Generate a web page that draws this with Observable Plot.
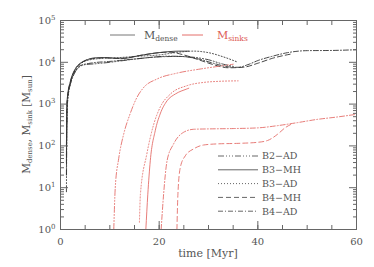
<!DOCTYPE html>
<html><head><meta charset="utf-8">
<script src="https://cdn.jsdelivr.net/npm/d3@7"></script>
<script src="https://cdn.jsdelivr.net/npm/@observablehq/plot@0.6"></script>
<style>body{margin:0;background:#fff}</style></head>
<body><div id="chart"></div>
<script>
// ---- data (time [Myr], mass [Msun]) ----
const runs = ["B2-AD", "B3-MH", "B3-AD", "B4-MH", "B4-AD"];

const denseB2AD = [[1.2,8],[1.3,300],[1.5,1500],[2,3200],[3,6000],[4,8000],[5,8800],[7,9200],[10,10000],[14,11500],[18,13000],[22,14000],[26,13500],[30,11500],[33,9000],[35,8000]];
const denseB3MH = [[1.2,40],[1.3,1000],[1.5,1800],[2,3500],[3,7000],[4,9500],[5,11000],[7,12800],[9,13000],[11,12500],[13,12500],[16,14500],[19,16500],[22,18000],[24,18500],[26,18500]];
const denseB3AD = [[1.2,60],[1.4,1000],[2,3000],[3,6500],[4,9000],[6,11500],[9,12500],[12,13000],[16,14000],[20,15000],[24,17500],[27,18500],[30,17000],[33,13500],[36,10000]];
const denseB4MH = [[1.2,100],[1.35,1200],[2,3300],[3,6800],[4,9200],[6,12000],[9,12800],[12,12300],[16,14500],[20,17000],[22,17500],[25,15000],[28,11500],[31,8800],[34,7400],[37,7600],[40,9500],[43,12500],[47,16000]];
const denseB4AD = [[1.2,20],[1.3,800],[1.6,2000],[2,3000],[3,6000],[4,8300],[6,9500],[10,10500],[15,12000],[20,13500],[24,13800],[28,12000],[31,9500],[34,7800],[36,7600],[38,8800],[40,11000],[43,14000],[46,17000],[50,19000],[55,19200],[60,20000]];

const sinksB2AD = [[10.8,1],[11.1,10],[11.8,50],[12.8,190],[14.1,580],[15.5,1450],[16.8,2450],[19.6,4000],[23.6,5500],[28.3,6900],[32,8000],[35,9000]];
const sinksB3MH = [[17.3,1],[17.7,7],[18.2,44],[19.2,230],[20.2,580],[21.6,1200],[23.3,1750],[25.6,2300],[26,2400]];
const sinksB3AD = [[16.0,1.5],[16.2,7],[17.5,64],[18.9,330],[20.2,840],[22.3,1750],[25.6,2750],[29,3300],[32,3500],[36,3600]];
const sinksB4MH = [[23.6,1],[23.8,7],[24.3,31],[25.3,58],[27,85],[29,105],[32,112],[36,115],[40,122],[42,135],[44,190],[45.5,270],[47,340]];
const sinksB4AD = [[20.4,1],[20.9,7],[21.6,44],[22.9,110],[24.9,210],[27,250],[30,255],[35,260],[40,270],[44,305],[48,360],[52,430],[56,490],[60,570]];

const xMajorTicks = [0, 20, 40, 60];
const xMinorTicks = [0,5,10,15,20,25,30,35,40,45,50,55,60];
const yMajorTicks = [1, 10, 100, 1000, 10000, 100000];
const yMinorTicks = [2,3,4,5,6,7,8,9,20,30,40,50,60,70,80,90,200,300,400,500,600,700,800,900,2000,3000,4000,5000,6000,7000,8000,9000,20000,30000,40000,50000,60000,70000,80000,90000];

const denseSeries = {"B2-AD": denseB2AD, "B3-MH": denseB3MH, "B3-AD": denseB3AD, "B4-MH": denseB4MH, "B4-AD": denseB4AD};
const sinkSeries  = {"B2-AD": sinksB2AD, "B3-MH": sinksB3MH, "B3-AD": sinksB3AD, "B4-MH": sinksB4MH, "B4-AD": sinksB4AD};

// ---- styles ----
const dash = {"B2-AD": "6,2,1,2,1,2,1,2", "B3-MH": null, "B3-AD": "1,2", "B4-MH": "5,3", "B4-AD": "5,2,1,2"};
const denseColor = "#333", sinkColor = "#e46e6a", axisColor = "#666", textColor = "#555";
const FONT = "DejaVu Serif";
const W = 374, H = 267, mL = 60, mR = 18, mT = 20, mB = 38;

const toRows = (arr) => arr.map(([t, m]) => ({t, m}));
const lineMarks = [];
for (const r of runs) {
  lineMarks.push(Plot.line(toRows(denseSeries[r]), {x: "t", y: "m", stroke: denseColor, strokeWidth: 0.9, strokeDasharray: dash[r], curve: "monotone-x"}));
}
for (const r of runs) {
  lineMarks.push(Plot.line(toRows(sinkSeries[r]), {x: "t", y: "m", stroke: sinkColor, strokeWidth: 0.9, strokeDasharray: dash[r], curve: "monotone-x"}));
}

const svg = Plot.plot({
  width: W, height: H,
  marginLeft: mL, marginRight: mR, marginTop: mT, marginBottom: mB,
  style: {fontFamily: FONT, fontSize: "10px", color: textColor, background: "#fff"},
  x: {domain: [0, 60]},
  y: {type: "log", domain: [1, 100000]},
  marks: [
    ...lineMarks,
    Plot.frame({stroke: axisColor}),
    Plot.axisX({anchor: "bottom", ticks: xMinorTicks, tickSize: -4, fill: "none", stroke: axisColor, label: null}),
    Plot.axisX({anchor: "bottom", ticks: xMajorTicks, tickSize: -8, fill: "none", stroke: axisColor, label: null}),
    Plot.axisX({anchor: "top", ticks: xMinorTicks, tickSize: -4, fill: "none", stroke: axisColor, label: null}),
    Plot.axisX({anchor: "top", ticks: xMajorTicks, tickSize: -8, fill: "none", stroke: axisColor, label: null}),
    Plot.axisX({anchor: "bottom", ticks: xMajorTicks, tickSize: 0, tickPadding: 8, fill: textColor, label: null, tickFormat: d3.format("d")}),
    Plot.axisY({anchor: "left", ticks: yMinorTicks, tickSize: -4, fill: "none", stroke: axisColor, label: null}),
    Plot.axisY({anchor: "left", ticks: yMajorTicks, tickSize: -8, fill: "none", stroke: axisColor, label: null}),
    Plot.axisY({anchor: "right", ticks: yMinorTicks, tickSize: -4, fill: "none", stroke: axisColor, label: null}),
    Plot.axisY({anchor: "right", ticks: yMajorTicks, tickSize: -8, fill: "none", stroke: axisColor, label: null}),
    Plot.axisY({anchor: "left", ticks: yMajorTicks, tickSize: 0, tickPadding: 5, fill: textColor, label: null, tickFormat: d => String(Math.round(Math.log10(d)))})
  ]
});

document.getElementById("chart").appendChild(svg);
const s = d3.select(svg);

// superscript tick labels 10^n
s.selectAll('g[aria-label="y-axis tick label"] text').each(function () {
  const e = this.textContent;
  const t = d3.select(this);
  t.text(null);
  t.append("tspan").text("10");
  t.append("tspan").attr("font-size", "7px").attr("dy", "-0.55em").text(e);
});

// axis titles
const cx = mL + (W - mL - mR) / 2;
s.append("text").attr("x", cx).attr("y", 257).attr("text-anchor", "middle")
  .attr("font-family", FONT).attr("font-size", "11px").attr("fill", textColor).text("time [Myr]");

const yl = s.append("text").attr("transform", `translate(30,${mT + (H - mT - mB) / 2}) rotate(-90)`)
  .attr("text-anchor", "middle").attr("font-family", FONT).attr("font-size", "10.5px").attr("fill", textColor);
yl.append("tspan").text("M");
yl.append("tspan").attr("font-size", "7px").attr("dy", "0.3em").text("dense");
yl.append("tspan").attr("dy", "-0.2em").text(", M");
yl.append("tspan").attr("font-size", "7px").attr("dy", "0.3em").text("sink");
yl.append("tspan").attr("dy", "-0.2em").text(" [M");
yl.append("tspan").attr("font-size", "7px").attr("dy", "0.3em").text("sun");
yl.append("tspan").attr("dy", "-0.2em").text("]");

// top legend
const topLegend = [{label: "M", sub: "dense", color: "#777", textColor: textColor, x1: 110, x2: 135, tx: 144},
                   {label: "M", sub: "sinks", color: sinkColor, textColor: "#dc5a55", x1: 182, x2: 203, tx: 217}];
for (const L of topLegend) {
  s.append("line").attr("x1", L.x1).attr("x2", L.x2).attr("y1", 35).attr("y2", 35).attr("stroke", L.color).attr("stroke-width", 1);
  const tt = s.append("text").attr("x", L.tx).attr("y", 39).attr("text-anchor", "start").attr("font-family", FONT).attr("font-size", "11px").attr("fill", L.textColor);
  tt.append("tspan").text(L.label);
  tt.append("tspan").attr("font-size", "7.5px").attr("dy", "0.3em").text(L.sub);
}

// run legend
runs.forEach((r, i) => {
  const y = 156 + i * 13.8;
  s.append("line").attr("x1", 218).attr("x2", 258).attr("y1", y).attr("y2", y)
    .attr("stroke", "#666").attr("stroke-width", 1).attr("stroke-dasharray", dash[r]);
  s.append("text").attr("x", 262).attr("y", y + 3.3).attr("text-anchor", "start").attr("font-family", FONT).attr("font-size", "9.5px")
    .attr("fill", textColor).text(r.replace("-", "\u2212"));
});
</script>
</body></html>
